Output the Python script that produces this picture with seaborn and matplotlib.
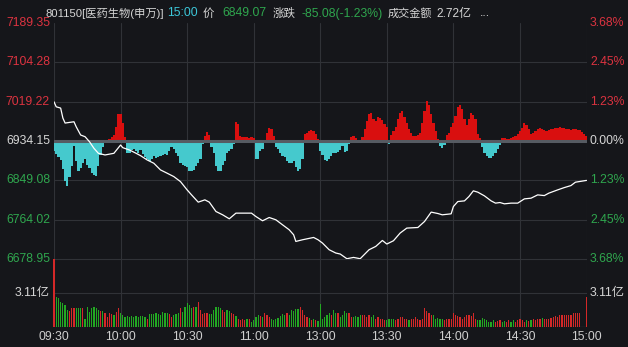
import matplotlib
matplotlib.use("Agg")
import matplotlib.pyplot as plt
import seaborn as sns
import numpy as np

# ---------------- data ----------------
base_price = 6934.15
price_levels = [7189.35, 7104.28, 7019.22, 6934.15, 6849.08, 6764.02, 6678.95]
price_level_colors = ["r", "r", "r", "w", "g", "g", "g"]
pct_labels = ["3.68%", "2.45%", "1.23%", "0.00%", "1.23%", "2.45%", "3.68%"]

time_ticks = [0, 30, 60, 90, 120, 150, 180, 210, 240]
time_labels = ["09:30", "10:00", "10:30", "11:00", "13:00", "13:30", "14:00", "14:30", "15:00"]

line_minutes = [0, 1, 3, 4, 5, 9, 10, 12, 14, 16, 18, 20, 23, 27, 30, 31, 34, 37, 39, 42,
                45, 48, 51, 54, 57, 60, 62, 65, 68, 70, 73, 76, 79, 82, 85, 89, 91, 94, 97, 100,
                103, 106, 108, 109, 112, 117, 119, 121, 124, 127, 129, 132, 135, 138, 142, 145,
                148, 150, 153, 156, 159, 164, 167, 170, 173, 175, 179, 180, 182, 185, 187, 189,
                191, 194, 197, 199, 201, 203, 206, 209, 212, 215, 218, 221, 223, 227, 230, 233,
                235, 240]
line_prices = [7018.8, 7008.0, 7005.2, 6983.7, 6972.9, 6975.7, 6964.9, 6947.1, 6943.4, 6932.6,
               6918.4, 6907.6, 6904.0, 6907.6, 6925.5, 6919.7, 6914.8, 6907.6, 6902.5, 6893.2,
               6886.1, 6871.7, 6864.6, 6857.3, 6846.5, 6828.6, 6817.8, 6802.1, 6807.1, 6802.1,
               6781.9, 6774.8, 6766.2, 6778.4, 6778.4, 6778.4, 6771.1, 6761.9, 6769.0, 6764.0,
               6753.2, 6742.5, 6731.7, 6717.3, 6720.9, 6725.9, 6720.9, 6713.8, 6699.4, 6692.3,
               6690.1, 6680.0, 6682.8, 6680.0, 6699.4, 6706.5, 6719.4, 6711.7, 6718.8, 6735.4,
               6746.1, 6747.4, 6760.4, 6780.6, 6777.6, 6774.8, 6776.9, 6792.6, 6803.4, 6804.9,
               6814.2, 6826.5, 6823.7, 6815.7, 6804.9, 6800.0, 6801.3, 6798.5, 6800.0, 6800.0,
               6809.2, 6810.7, 6817.8, 6816.3, 6821.5, 6828.6, 6833.6, 6837.9, 6845.2, 6849.07]

# buy/sell strength bars (positive = red, negative = cyan), one per minute
strength = [
    -10, -13, -16, -19, -28, -40, -45, -36, -25, -5,
    -20, -30, -27, -22, -18, -24, -27, -32, -34, -35,
    -25, -14, -6, -2, 1, 2, 4, 6, 14, 27,
    27, 18, 4, -12, -12, -9, -8, -10, -12, -9,
    -13, -16, -18, -20, -18, -15, -17, -16, -15, -14,
    -13, -14, -10, -6, -8, -12, -15, -22, -24, -25,
    -26, -30, -30, -29, -25, -22, -18, -3, 5, 9,
    6, -6, -12, -25, -30, -30, -24, -20, -12, -10,
    -8, -3, 19, 17, 5, 4, 4, 4, 3, 4,
    3, -18, -18, -10, -8, -2, 8, 13, 12, 5,
    -6, -8, -12, -15, -16, -20, -22, -22, -20, -26,
    -30, -28, -18, 7, 8, 10, 11, 10, 7, 2,
    -10, -14, -19, -20, -18, -15, -12, -12, -11, -9,
    -5, -11, -10, -3, 4, 5, 3, 1, 1, 4,
    12, 20, 27, 28, 22, 20, 24, 23, 21, 17,
    14, -3, 6, 10, 14, 22, 28, 30, 24, 18,
    12, 8, 5, 5, 6, 8, 18, 30, 40, 36,
    27, 18, 10, 2, -5, -7, -4, 6, 8, 14,
    18, 25, 34, 36, 32, 22, 16, 22, 28, 26,
    22, 7, 3, -6, -12, -15, -17, -17, -15, -12,
    -8, -4, 3, 3, 2, 2, 3, 4, 5, 7,
    10, 13, 18, 16, 12, 7, 8, 10, 12, 13,
    12, 11, 10, 11, 12, 12, 13, 13, 14, 13,
    13, 12, 12, 11, 12, 12, 11, 11, 9, 7,
    5]

# turnover per minute (亿)
volume = [
    6.20, 2.78, 2.69, 2.32, 2.17, 2.01, 1.55, 1.50, 1.70, 1.76,
    1.70, 1.76, 1.76, 1.70, 0.70, 1.85, 1.40, 1.70, 1.80, 1.76,
    1.55, 1.45, 1.45, 1.24, 0.93, 1.24, 1.15, 1.08, 1.40, 1.70,
    1.24, 1.08, 0.93, 1.00, 0.95, 1.00, 0.93, 0.98, 0.95, 1.00,
    1.00, 0.95, 0.77, 1.15, 1.15, 1.20, 1.24, 1.20, 1.10, 1.40,
    1.30, 1.25, 1.15, 0.93, 1.10, 1.20, 1.30, 1.70, 1.40, 1.85,
    2.17, 2.00, 1.70, 1.85, 1.85, 2.30, 1.55, 1.15, 1.24, 1.24,
    1.15, 1.15, 1.55, 1.80, 1.85, 1.75, 1.55, 1.40, 1.55, 1.45,
    1.24, 1.15, 1.00, 0.77, 0.62, 0.70, 0.62, 0.70, 0.77, 0.46,
    0.62, 0.93, 1.08, 1.00, 0.93, 1.24, 1.08, 0.93, 0.77, 0.62,
    0.77, 0.85, 1.00, 1.15, 1.08, 1.24, 1.08, 1.55, 1.45, 1.65,
    1.65, 1.85, 1.55, 1.08, 0.93, 0.80, 0.62, 0.70, 0.62, 0.55,
    2.07, 0.77, 0.93, 1.08, 1.24, 1.14, 1.55, 1.24, 1.24, 0.93,
    1.08, 1.45, 1.24, 1.33, 0.93, 0.93, 1.00, 0.93, 1.08, 1.14,
    1.08, 0.93, 1.08, 0.93, 1.08, 0.77, 0.93, 0.77, 0.77, 0.62,
    0.62, 0.70, 0.77, 0.77, 0.62, 0.77, 0.93, 0.93, 0.77, 0.77,
    0.62, 0.77, 0.70, 0.93, 0.77, 0.62, 0.77, 1.70, 1.45, 1.33,
    1.14, 1.08, 0.77, 0.85, 0.70, 0.77, 0.62, 0.77, 0.70, 0.77,
    1.24, 1.08, 1.00, 0.93, 0.77, 0.93, 1.08, 1.14, 1.00, 1.24,
    0.77, 0.62, 0.62, 0.85, 0.70, 0.62, 0.50, 0.50, 0.62, 0.46,
    0.53, 0.62, 0.46, 0.53, 0.46, 0.62, 0.46, 0.62, 0.46, 0.62,
    0.70, 0.62, 0.50, 0.62, 0.53, 0.62, 0.70, 0.62, 0.70, 0.77,
    0.85, 0.77, 0.70, 0.77, 0.85, 0.93, 1.00, 0.93, 1.08, 1.14,
    1.08, 1.14, 1.08, 1.14, 1.24, 1.33, 1.24, 1.30, 0.00, 0.00,
    2.72]
volume_dir = ("rggggggrrr" "gggrgggggg" "grgrrrrgrr" "gggggggggg" "ggrggggggg"
              "ggrrgggrgg" "gggrgrrrrr" "ggggggrrgg" "rrgrrrrgrg" "gggrgrrrgg"
              "gggggrgggg" "grrrrgrgrg" "gggggrggrg" "gggrrggggr" "rrrggrrrrr"
              "ggggrrrrrr" "grrrrrrrrr" "rgggggrrrr" "rrrrrrrrrr" "rggggggggr"
              "rrggrrggrr" "rrrgrgrrrr" "grrrrrrrrr" "rrrrrrrrrrr")
vol_mid_label = "3.11亿"
vol_max = 6.22

# header pieces: text, left x (px), colour key, font size
header = [("801150[医药生物(申万)]", 45, "n", 8.1), ("15:00", 167, "c", 8.8),
          ("价", 203, "n", 8.3), ("6849.07", 222, "g", 8.8), ("涨跌", 273, "n", 8.3),
          ("-85.08(-1.23%)", 302, "g", 8.8), ("成交金额", 388, "n", 8.0),
          ("2.72亿", 436, "n", 8.6), ("...", 480, "n", 8.8)]

# ---------------- style ----------------
BG = "#15161a"
GRID = "#303237"
RED_T = "#dc3340"
GREEN_T = "#2fa64e"
WHITE_T = "#d6d6d6"
CYAN_T = "#3cc6d8"
tcol = {"r": RED_T, "g": GREEN_T, "w": WHITE_T, "n": WHITE_T, "c": CYAN_T}

sns.set_theme(style="dark")
plt.rcParams["font.family"] = ["Liberation Sans", "Noto Sans CJK SC", "DejaVu Sans"]
plt.rcParams["axes.unicode_minus"] = False
FS = 8.8

W, H = 628, 347
fig = plt.figure(figsize=(W / 100, H / 100), dpi=100, facecolor=BG)

x0, x1 = 54, 586.5
yp_top, yp_bot = 22.8, 259.2
yv_bot = 327.0
left = x0 / W
width = (x1 - x0) / W
ax_p = fig.add_axes([left, 1 - yp_bot / H, width, (yp_bot - yp_top) / H])
ax_v = fig.add_axes([left, 1 - yv_bot / H, width, (yv_bot - yp_bot) / H])

for ax in (ax_p, ax_v):
    ax.set_facecolor(BG)
    for s in ax.spines.values():
        s.set_visible(False)
    ax.set_xlim(0, 240)
    ax.tick_params(length=0)
    ax.grid(False)

ax_p.set_ylim(price_levels[-1], price_levels[0])
ax_p.set_xticks([])
ax_p.set_yticks([])
for lv in price_levels[1:]:
    if lv == base_price:
        continue
    ax_p.axhline(lv, color=GRID, lw=0.8, zorder=0)
for t in time_ticks:
    ax_p.axvline(t, color=GRID, lw=0.8, zorder=0)
    ax_v.axvline(t, color=GRID, lw=0.8, zorder=0)

# strength bars on twin axis
ax_s = ax_p.twinx()
ax_s.set_ylim(-118.2, 118.2)
ax_s.set_axis_off()
minutes = np.arange(len(strength))
st = np.array(strength, dtype=float)
ax_s.bar(minutes[st > 0], st[st > 0], width=1.0, color="#d90f0f", linewidth=0, zorder=2)
ax_s.bar(minutes[st < 0], st[st < 0], width=1.0, color="#45c9cd", linewidth=0, zorder=2)
ax_s.axhline(0, color="#565b62", lw=2.2, zorder=3)

# price line
ax_l = ax_p.twinx()
ax_l.set_ylim(price_levels[-1], price_levels[0])
ax_l.set_axis_off()
sns.lineplot(x=line_minutes, y=line_prices, ax=ax_l, color="white", linewidth=0.9,
             estimator=None, sort=False)

# volume
ax_v.set_ylim(0, vol_max)
ax_v.axhline(vol_max / 2, color=GRID, lw=0.8, zorder=0)
ax_v.axhline(0, color=GRID, lw=1.0, zorder=0)
ax_v.axhline(vol_max, color=GRID, lw=0.8, zorder=0)
vm = np.arange(len(volume))
vv = np.array(volume)
dirs = np.array(list(volume_dir))
ax_v.bar(vm[dirs == "r"], vv[dirs == "r"], width=0.55, color="#d42828", linewidth=0,
         zorder=2, clip_on=False)
ax_v.bar(vm[dirs == "g"], vv[dirs == "g"], width=0.55, color="#22a822", linewidth=0,
         zorder=2, clip_on=False)
ax_v.set_yticks([])
ax_v.set_xticks(time_ticks)
ax_v.set_xticklabels(time_labels, color="#cfcfcf", fontsize=FS)
ax_v.tick_params(axis="x", pad=3.0)

# price / percent labels
ytr = ax_p.get_yaxis_transform()
for lv, c, pct in zip(price_levels, price_level_colors, pct_labels):
    ax_p.text(-0.0075, lv, f"{lv:.2f}", transform=ytr, ha="right", va="center",
              color=tcol[c], fontsize=FS, clip_on=False)
    ax_p.text(1.0065, lv, pct, transform=ytr, ha="left", va="center",
              color=tcol[c], fontsize=FS, clip_on=False)
vtr = ax_v.get_yaxis_transform()
ax_v.text(-0.0075, vol_max / 2, vol_mid_label, transform=vtr, ha="right", va="center",
          color=WHITE_T, fontsize=FS)
ax_v.text(1.0065, vol_max / 2, vol_mid_label, transform=vtr, ha="left", va="center",
          color=WHITE_T, fontsize=FS)

# header
for txt, px, c, fs in header:
    fig.text(px / W, 1 - 13.5 / H, txt, ha="left", va="center", color=tcol[c], fontsize=fs)

fig.savefig("out.png", dpi=100, facecolor=BG)
